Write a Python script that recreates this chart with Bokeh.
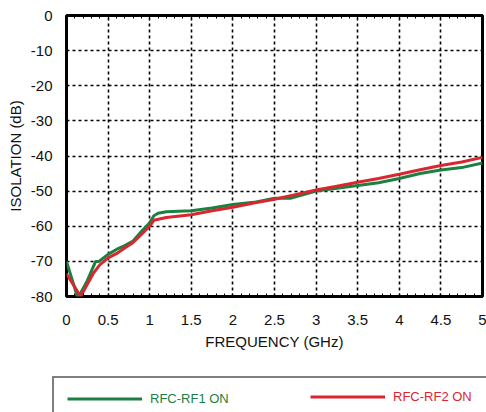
from bokeh.plotting import figure
from bokeh.layouts import column, row
from bokeh.models import (Range1d, FixedTicker, LinearAxis, Legend, LegendItem,
                          CustomJSTickFormatter)
from bokeh.embed import file_html
from bokeh.resources import INLINE

# ---- data ----
freq_rf1 = [0.0, 0.13, 0.17, 0.25, 0.35, 0.39, 0.5, 0.6, 0.7, 0.8, 0.9, 1.0, 1.05,
            1.1, 1.2, 1.5, 1.75, 2.0, 2.25, 2.5, 2.7, 3.0, 3.25, 3.5, 3.75, 4.0,
            4.25, 4.5, 4.75, 5.0]
iso_rf1 = [-70.0, -80.0, -79.0, -75.5, -70.0, -70.0, -68.0, -66.6, -65.5, -64.2,
           -61.5, -59.0, -57.0, -56.3, -55.9, -55.6, -54.8, -53.8, -53.2, -52.0,
           -52.0, -50.0, -49.2, -48.4, -47.6, -46.4, -45.0, -44.0, -43.3, -42.0]

freq_rf2 = [0.0, 0.17, 0.25, 0.32, 0.4, 0.5, 0.6, 0.7, 0.8, 0.9, 1.0, 1.05, 1.2,
            1.5, 1.75, 2.0, 2.25, 2.5, 2.75, 3.0, 3.25, 3.5, 3.75, 4.0, 4.25, 4.5,
            4.75, 5.0]
iso_rf2 = [-73.5, -80.0, -76.5, -73.5, -71.0, -69.0, -67.8, -66.2, -64.6, -62.3,
           -60.0, -58.3, -57.5, -56.7, -55.6, -54.6, -53.4, -52.3, -51.0, -49.7,
           -48.6, -47.5, -46.4, -45.2, -43.9, -42.7, -41.7, -40.4]

x_ticks = [0, 0.5, 1, 1.5, 2, 2.5, 3, 3.5, 4, 4.5, 5]
x_tick_labels = ["0", "0.5", "1", "1.5", "2", "2.5", "3", "3.5", "4", "4.5", "5"]
x_minor = [i / 10 for i in range(0, 51)]
y_ticks = [-80, -70, -60, -50, -40, -30, -20, -10, 0]
y_tick_labels = ["-80", "-70", "-60", "-50", "-40", "-30", "-20", "-10", "0"]

series_names = ["RFC-RF1 ON", "RFC-RF2 ON"]
series_colors = ["#1b8042", "#d9262f"]

FONT = "Liberation Sans"

# ---- main chart ----
p = figure(width=486, height=360, x_range=Range1d(0, 5), y_range=Range1d(-80, 0),
           output_backend="svg", toolbar_location=None,
           min_border_left=66, min_border_right=4, min_border_top=15,
           min_border_bottom=64)
p.background_fill_color = "white"
p.border_fill_color = "white"
p.outline_line_color = "black"
p.outline_line_width = 3

xt = FixedTicker(ticks=x_ticks, minor_ticks=x_minor)
yt = FixedTicker(ticks=y_ticks)

p.xaxis.ticker = xt
p.yaxis.ticker = yt
p.xaxis.major_label_overrides = {t: l for t, l in zip(x_ticks, x_tick_labels)}
p.yaxis.major_label_overrides = {t: l for t, l in zip(y_ticks, y_tick_labels)}

for ax in (p.xaxis[0], p.yaxis[0]):
    ax.axis_line_color = None
    ax.major_tick_line_color = None
    ax.major_label_text_font = FONT
    ax.major_label_text_font_size = "15px"
    ax.major_label_text_color = "#111111"
    ax.axis_label_text_font = FONT
    ax.axis_label_text_font_size = "15px"
    ax.axis_label_text_font_style = "normal"
    ax.axis_label_text_color = "#111111"

p.xaxis.minor_tick_in = 3
p.xaxis.minor_tick_out = 0
p.xaxis.minor_tick_line_color = "black"
p.xaxis.minor_tick_line_width = 1
p.xaxis.major_label_standoff = 12
p.xaxis.axis_label = "FREQUENCY (GHz)"
p.xaxis.axis_label_standoff = 5

p.yaxis.minor_tick_line_color = None
p.yaxis.major_label_standoff = 8
p.yaxis.axis_label = "ISOLATION (dB)"
p.yaxis.axis_label_standoff = 4

top = LinearAxis(ticker=xt, formatter=CustomJSTickFormatter(code="return ''"))
top.axis_line_color = None
top.major_tick_line_color = None
top.major_label_text_font_size = "0px"
top.major_label_standoff = 0
top.minor_tick_in = 3
top.minor_tick_out = 0
top.minor_tick_line_color = "black"
top.minor_tick_line_width = 1
p.add_layout(top, "above")

p.xgrid.ticker = xt
p.ygrid.ticker = yt
for g in (p.xgrid[0], p.ygrid[0]):
    g.grid_line_color = "black"
    g.grid_line_width = 1.6
    g.grid_line_dash = "3 3"
    g.grid_line_alpha = 1.0

p.line(freq_rf1, iso_rf1, line_color=series_colors[0], line_width=3)
p.line(freq_rf2, iso_rf2, line_color=series_colors[1], line_width=3)

# ---- legend strip (box clipped at right and bottom as in the reference) ----
q = figure(width=486, height=52, x_range=Range1d(0, 5), y_range=Range1d(0, 1),
           x_axis_type=None, y_axis_type=None,
           output_backend="svg", toolbar_location=None,
           min_border_left=52, min_border_right=0, min_border_top=16,
           min_border_bottom=0)
q.outline_line_color = None
q.grid.visible = False
q.background_fill_color = "white"
q.border_fill_color = "white"
# same series, outside the strip's view: they only supply the legend samples
l1 = q.line(freq_rf1, iso_rf1, line_color=series_colors[0], line_width=3)
l2 = q.line(freq_rf2, iso_rf2, line_color=series_colors[1], line_width=3)


def style_legend(lg, color, label_width, bordered):
    lg.border_line_color = "black" if bordered else None
    lg.border_line_width = 2
    lg.background_fill_color = "white"
    lg.background_fill_alpha = 1.0 if bordered else 0.0
    lg.padding = 13 if bordered else 0
    lg.margin = 0 if bordered else 13
    lg.spacing = 0
    lg.glyph_width = 75
    lg.glyph_height = 11
    lg.label_height = 11
    lg.label_width = label_width
    lg.label_standoff = 8
    lg.label_text_font = FONT
    lg.label_text_font_size = "13px"
    lg.label_text_line_height = 0.9
    lg.label_text_color = color


leg1 = Legend(items=[LegendItem(label=series_names[0], renderers=[l1])],
              location="top_left", orientation="horizontal")
style_legend(leg1, series_colors[0], 420, True)
leg2 = Legend(items=[LegendItem(label=series_names[1], renderers=[l2])],
              location="top_right", orientation="horizontal")
style_legend(leg2, series_colors[1], 80, False)
q.add_layout(leg1, "center")
q.add_layout(leg2, "center")

layout = column(p, row(q), spacing=0)
open("out.html", "w").write(file_html(layout, INLINE))
